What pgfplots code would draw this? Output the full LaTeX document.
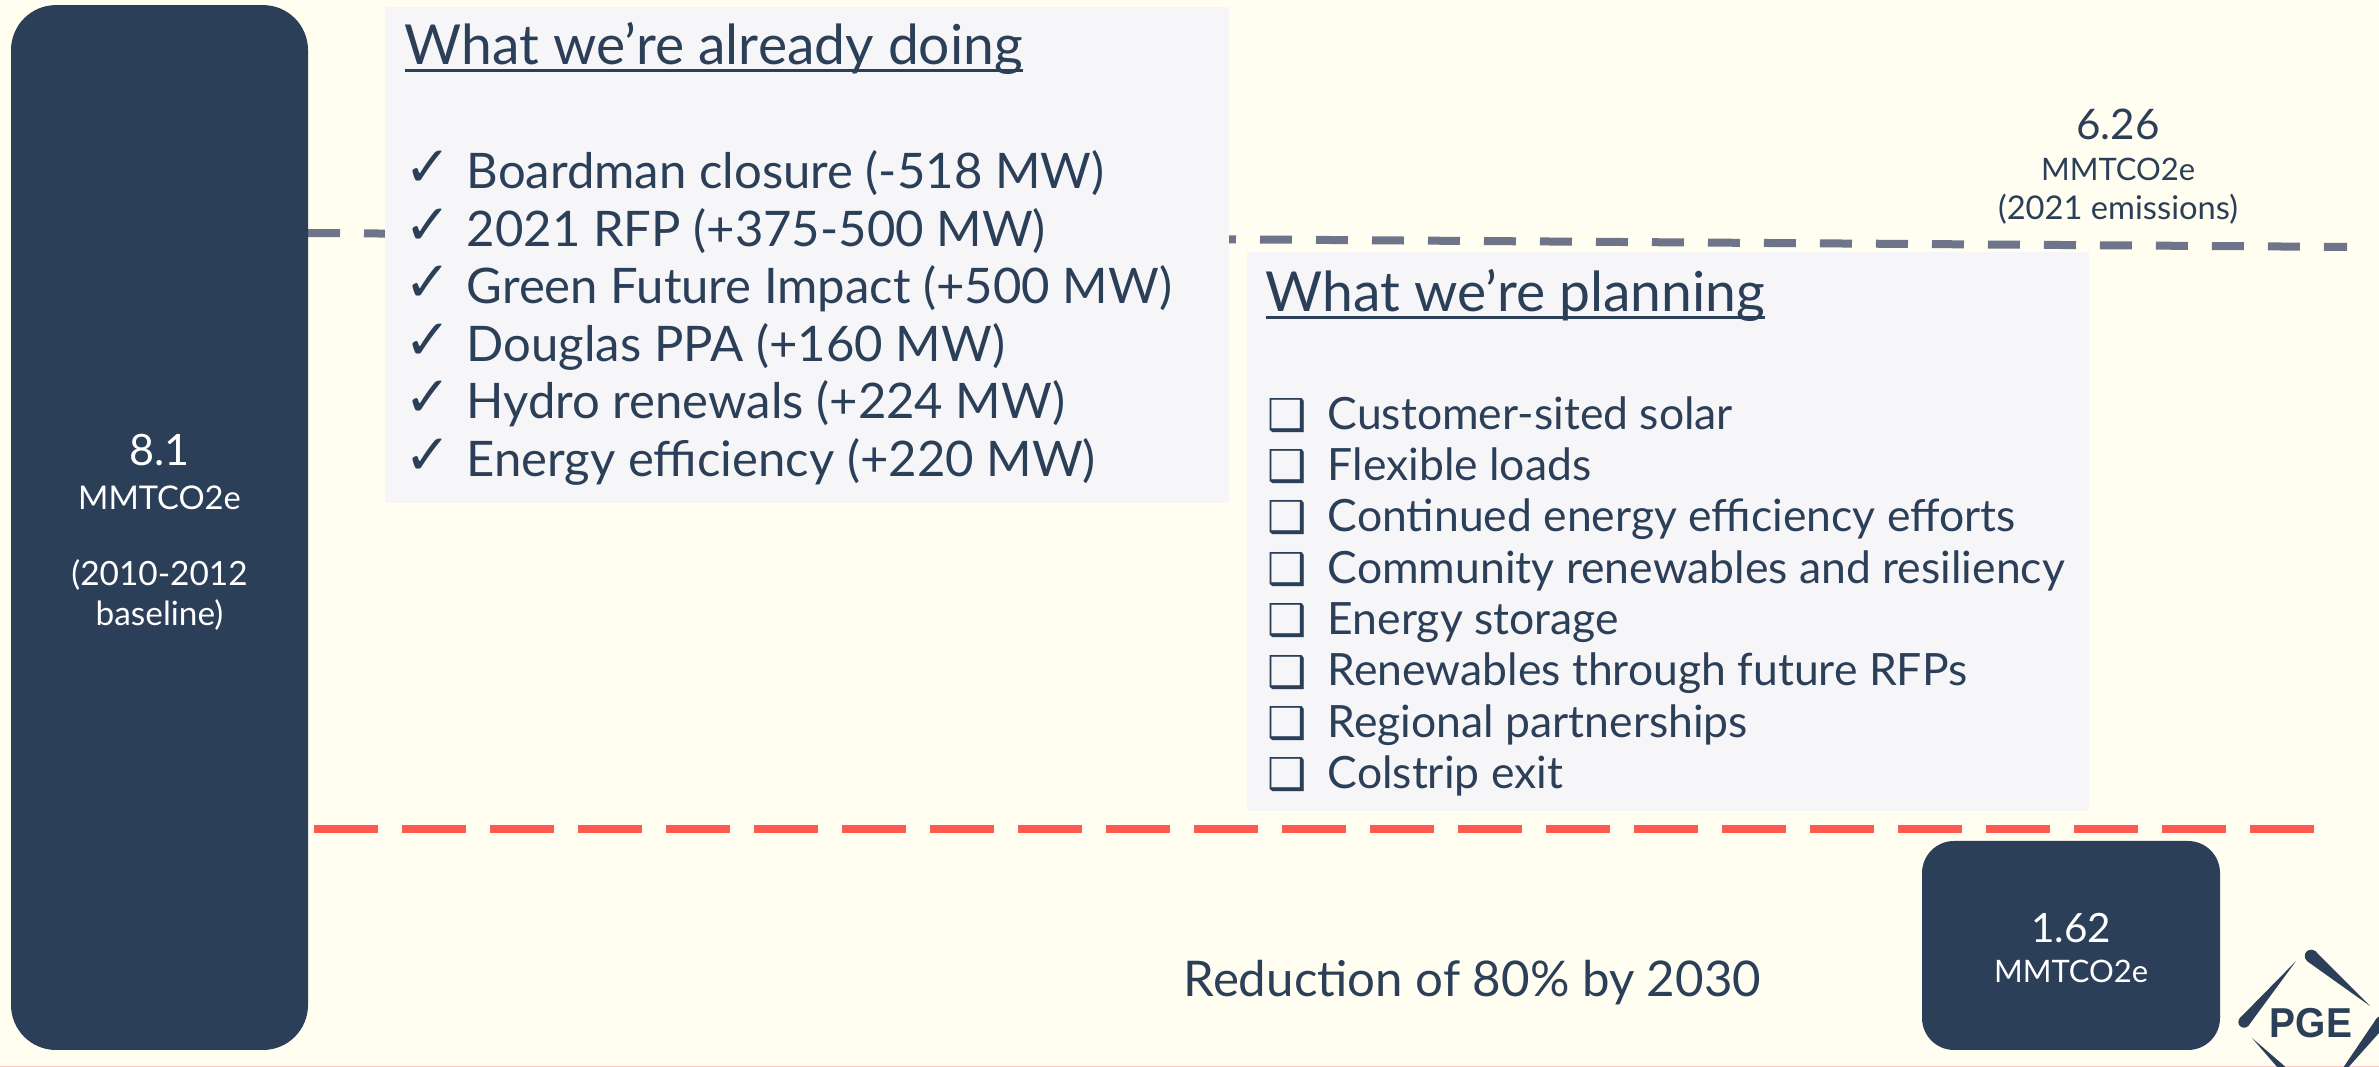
\documentclass[border=0pt]{standalone}
\usepackage{pgfplots}
\pgfplotsset{compat=1.18}
\usepackage{fontspec}
\setmainfont{Lato}
\newfontfamily\symfont{DejaVu Sans}
\newfontfamily\logofont{Liberation Sans}
\definecolor{bg}{HTML}{FFFEF1}
\definecolor{navy}{HTML}{2C3F58}
\definecolor{boxgray}{HTML}{F6F6F8}
\definecolor{dashgray}{HTML}{6E7489}
\definecolor{tred}{HTML}{FF5A50}
\definecolor{pinkline}{HTML}{FFC4C4}
\newcommand\ul[1]{\leavevmode\setbox0\hbox{#1}\rlap{\rule[-0.75mm]{\wd0}{0.3mm}}\box0}
\newcommand\fs[1]{\fontsize{#1}{#1}\selectfont}
\begin{document}
\begin{tikzpicture}
\begin{axis}[
  scale only axis, width=237.9mm, height=106.7mm,
  xmin=0, xmax=2379, ymin=-0.1318, ymax=8.1395,
  hide axis,
]
\fill[bg] (rel axis cs:0,0) rectangle (rel axis cs:1,1);
\coordinate (bl) at (rel axis cs:0,0);
\coordinate (tr) at (rel axis cs:1,1);
\coordinate (tl) at (rel axis cs:0,1);
% 2021 emissions level (6.26)
\addplot[dashgray, line width=0.8mm, dash pattern=on 3.2mm off 2.4mm] coordinates {(308,6.333) (2347,6.225)};
% 2030 target level
\addplot[tred, line width=0.8mm, dash pattern=on 6.4mm off 2.4mm] coordinates {(314,1.713) (2314,1.713)};
% baseline bar 8.1
\addplot[fill=navy, draw=none, rounded corners=4.5mm] coordinates {(160,0) (308,0) (308,8.1) (11,8.1) (11,0) (160,0)};
% 2030 bar 1.62
\addplot[fill=navy, draw=none, rounded corners=3.2mm] coordinates {(2071,0) (2220,0) (2220,1.62) (1922,1.62) (1922,0) (2071,0)};
\end{axis}
\begin{scope}[shift={(tl)}, x=0.1mm, y=-0.1mm]
\fill[pinkline] (0,1065.8) rectangle (2379,1067);
\fill[boxgray] (385,7) rectangle (1229,503);
\fill[boxgray] (1247,252) rectangle (2089,811);
\tikzset{t/.style={anchor=base west, inner sep=0, text=navy}}
% left box
\node[t, font=\fs{15.7pt}] at (404,65) {\ul{What we’re already doing}};
\foreach \yy in {187,245,302,360,417,475}{
  \node[t, font=\symfont\fs{16pt}] at (404,\yy) {✓};
}
\node[t, font=\fs{13.95pt}] at (466,189) {Boardman closure (-518 MW)};
\node[t, font=\fs{13.95pt}] at (466,247) {2021 RFP (+375-500 MW)};
\node[t, font=\fs{13.95pt}] at (466,304) {Green Future Impact (+500 MW)};
\node[t, font=\fs{13.95pt}] at (466,362) {Douglas PPA (+160 MW)};
\node[t, font=\fs{13.95pt}] at (466,419) {Hydro renewals (+224 MW)};
\node[t, font=\fs{13.95pt}] at (466,477) {Energy efficiency (+220 MW)};
% right box
\node[t, font=\fs{15.7pt}] at (1265,312) {\ul{What we’re planning}};
\foreach \yy in {431,482,533,585,636,687,738,789}{
  \node[t, font=\symfont\fs{12.5pt}] at (1267,\yy) {❑};
}
\node[t, font=\fs{12.66pt}] at (1327,430) {Customer-sited solar};
\node[t, font=\fs{12.66pt}] at (1327,481) {Flexible loads};
\node[t, font=\fs{12.66pt}] at (1327,532) {Continued energy efficiency efforts};
\node[t, font=\fs{12.66pt}] at (1327,584) {Community renewables and resiliency};
\node[t, font=\fs{12.66pt}] at (1327,635) {Energy storage};
\node[t, font=\fs{12.66pt}] at (1327,686) {Renewables through future RFPs};
\node[t, font=\fs{12.66pt}] at (1327,737) {Regional partnerships};
\node[t, font=\fs{12.66pt}] at (1327,788) {Colstrip exit};
% 6.26 label
\tikzset{c/.style={anchor=base, inner sep=0, text=navy}}
\node[c, font=\fs{12pt}] at (2118,140) {6.26};
\node[c, font=\fs{8.8pt}] at (2118,181) {MMTCO2e};
\node[c, font=\fs{9.3pt}] at (2118,220) {(2021 emissions)};
% reduction
\node[t, font=\fs{14pt}] at (1183,996) {Reduction of 80\% by 2030};
% bar labels
\tikzset{w/.style={anchor=base, inner sep=0, text=white}}
\node[w, font=\fs{12.3pt}] at (159.5,466) {8.1};
\node[w, font=\fs{9.3pt}] at (159.5,510) {MMTCO2e};
\node[w, font=\fs{9.5pt}] at (159.5,586) {(2010-2012};
\node[w, font=\fs{9.5pt}] at (159.5,626) {baseline)};
\node[w, font=\fs{11.5pt}] at (2071,942) {1.62};
\node[w, font=\fs{8.8pt}] at (2071,982) {MMTCO2e};
% logo
\begin{scope}
\clip (0,0) rectangle (2379,1067);
\fill[navy] (2239.6,1018.3) -- (2296,961) -- (2248.4,1025.7) -- cycle;
\fill[navy] (2244,1022) circle[radius=5.7];
\fill[navy] (2306.8,961) -- (2370,1006) -- (2315.2,951) -- cycle;
\fill[navy] (2311,956) circle[radius=6.3];
\fill[navy] (2385.5,1025.6) -- (2328,1090) -- (2376.5,1018.4) -- cycle;
\fill[navy] (2381,1022) circle[radius=5.7];
\fill[navy] (2311,1089) -- (2252,1038) -- (2303,1097) -- cycle;
\fill[navy] (2307,1093) circle[radius=5.7];
\node[anchor=base, inner sep=0, text=navy, font=\logofont\bfseries\fs{11.9pt}, xscale=0.93] at (2311,1037) {PGE};
\end{scope}
\end{scope}
\pgfresetboundingbox
\path[use as bounding box] (bl) rectangle (tr);
\end{tikzpicture}
\end{document}
